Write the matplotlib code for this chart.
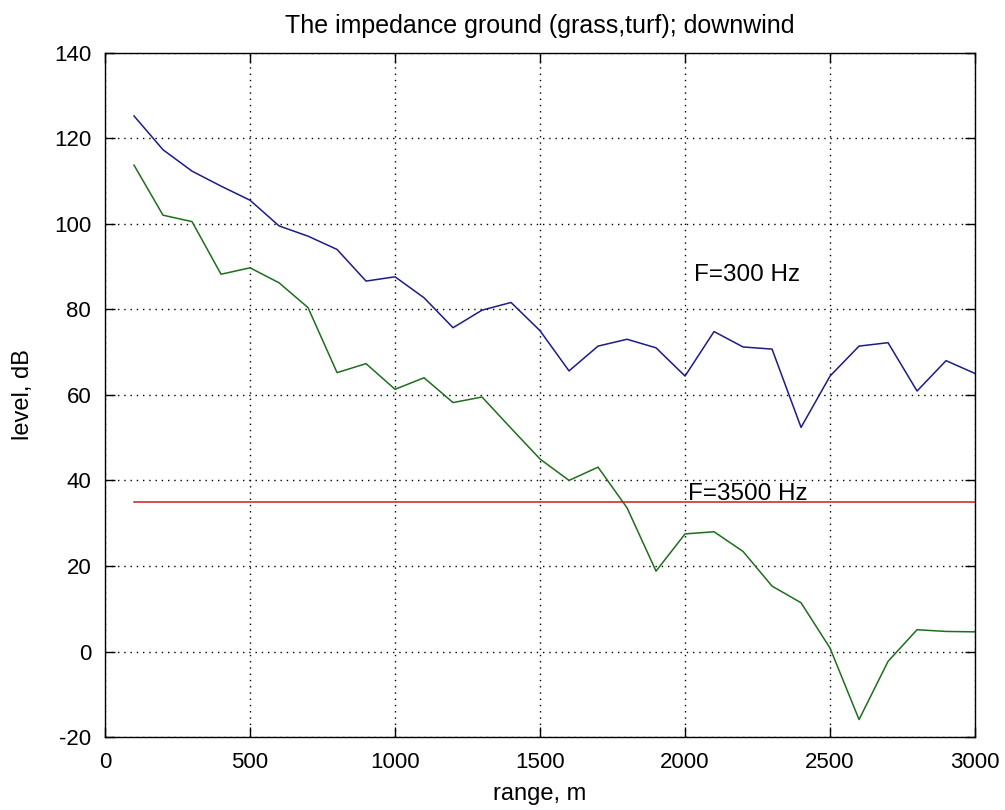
import numpy as np
import matplotlib
matplotlib.use("Agg")
from matplotlib import pyplot as plt

# range points, m
rng = [100, 200, 300, 400, 500, 600, 700, 800, 900, 1000,
       1100, 1200, 1300, 1400, 1500, 1600, 1700, 1800, 1900, 2000,
       2100, 2200, 2300, 2400, 2500, 2600, 2700, 2800, 2900, 3000]

# level at F=300 Hz, dB
lev_300 = [125.2, 117.3, 112.3, 108.8, 105.5, 99.5, 97.1, 94.0, 86.6, 87.6,
           82.7, 75.7, 79.8, 81.6, 75.0, 65.6, 71.4, 73.0, 71.0, 64.4,
           74.8, 71.2, 70.7, 52.4, 64.4, 71.4, 72.2, 60.9, 68.0, 65.0]

# level at F=3500 Hz, dB
lev_3500 = [113.7, 102.0, 100.5, 88.2, 89.7, 86.2, 80.4, 65.2, 67.3, 61.3,
            64.0, 58.2, 59.5, 52.2, 45.0, 40.0, 43.1, 33.6, 18.8, 27.5,
            28.0, 23.4, 15.3, 11.4, 0.8, -15.9, -2.3, 5.1, 4.7, 4.6]

# reference level, dB
lev_ref = [35.0, 35.0]
rng_ref = [100, 3000]

title = 'The impedance ground (grass,turf); downwind'

plt.rcParams['font.family'] = ['Liberation Sans', 'DejaVu Sans']
plt.rcParams['font.size'] = 16
plt.rcParams['axes.unicode_minus'] = False

fig = plt.figure(figsize=(10.05, 8.1), dpi=100)
ax = fig.add_axes([0.1045, 0.09, 0.8657, 0.845])

ax.plot(rng, lev_300, color='#1c1c86', lw=1.1)
ax.plot(rng, lev_3500, color='#1e6e1e', lw=1.1)
ax.plot(rng_ref, lev_ref, color='#c81e1e', lw=1.1)

ax.text(2030, 88, 'F=300 Hz', va='center', ha='left', fontsize=17.5)
ax.text(2010, 36.8, 'F=3500 Hz', va='center', ha='left', fontsize=17.5)

ax.set_xlim(0, 3000)
ax.set_ylim(-20, 140)
ax.set_xticks(np.arange(0, 3001, 500))
ax.set_yticks(np.arange(-20, 141, 20))
ax.grid(True, color='black', linestyle=(0, (1, 3.5)), linewidth=1.0)
ax.tick_params(direction='in', top=True, right=True, length=7, width=1.0,
               labelsize=16)
ax.tick_params(axis='x', pad=11)
ax.tick_params(axis='y', pad=10)
for s in ax.spines.values():
    s.set_linewidth(1.0)

ax.set_title(title, fontsize=18, pad=14)
ax.set_xlabel('range, m', fontsize=17, labelpad=7)
ax.set_ylabel('level, dB', fontsize=17, labelpad=14)

fig.savefig('out.png', dpi=100)
